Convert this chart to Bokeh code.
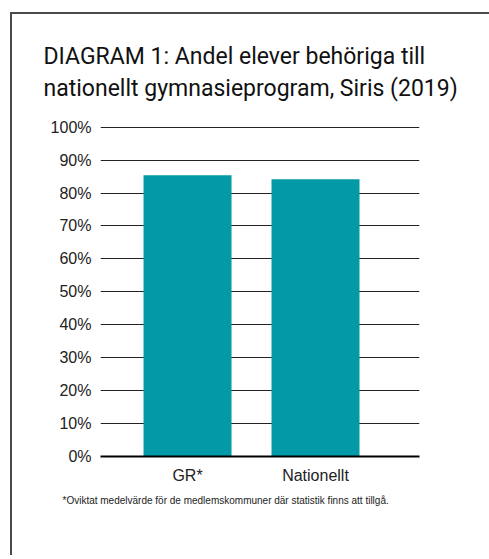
from bokeh.plotting import figure
from bokeh.models import (Range1d, FixedTicker, PrintfTickFormatter, Title)
from bokeh.embed import file_html
from bokeh.resources import INLINE

categories = ["GR*", "Nationellt"]
values = [85.4, 84.2]
y_ticks = [0, 10, 20, 30, 40, 50, 60, 70, 80, 90, 100]
title_lines = ["DIAGRAM 1: Andel elever behöriga till",
               "nationellt gymnasieprogram, Siris (2019)"]
footnote = "*Oviktat medelvärde för de medlemskommuner där statistik finns att tillgå."

xs = list(range(len(categories)))

p = figure(width=479, height=543, output_backend="svg", toolbar_location=None,
           x_range=Range1d(-0.68, 1.8125), y_range=Range1d(0, 100.5),
           min_border_left=88, min_border_right=72, min_border_top=111,
           min_border_bottom=101)
p.margin = (14, 0, 0, 12)
p.styles = {"box-shadow": "-2px -2px 0px 0px #4a4a4a"}
p.outline_line_color = None
p.background_fill_color = "white"
p.border_fill_color = "white"

p.vbar(x=xs, top=values, width=0.6875, bottom=0, color="#019AA6", line_color=None)

p.xaxis.ticker = FixedTicker(ticks=xs)
p.xaxis.major_label_overrides = {i: c for i, c in zip(xs, categories)}
p.xaxis.major_tick_line_color = None
p.xaxis.minor_tick_line_color = None
p.xaxis.major_tick_out = 0
p.xaxis.minor_tick_out = 0
p.xaxis.axis_line_color = "black"
p.xaxis.axis_line_width = 2
p.xaxis.major_label_text_font = "Liberation Sans"
p.xaxis.major_label_text_font_size = "16px"
p.xaxis.major_label_text_color = "#222222"
p.xaxis.major_label_standoff = 10

p.yaxis.ticker = FixedTicker(ticks=y_ticks)
p.yaxis.formatter = PrintfTickFormatter(format="%d%%")
p.yaxis.axis_line_color = None
p.yaxis.major_tick_line_color = None
p.yaxis.minor_tick_line_color = None
p.yaxis.major_tick_out = 0
p.yaxis.minor_tick_out = 0
p.yaxis.major_label_text_font = "Liberation Sans"
p.yaxis.major_label_text_font_size = "16px"
p.yaxis.major_label_text_color = "#222222"
p.yaxis.major_label_standoff = 9

p.xgrid.grid_line_color = None
p.ygrid.ticker = FixedTicker(ticks=y_ticks)
p.ygrid.grid_line_color = "#222222"
p.ygrid.grid_line_width = 1

p.title = None
p.add_layout(Title(text="\n".join(title_lines), align="left", offset=-57, standoff=46,
                   text_font="Roboto", text_font_size="23px", text_line_height=1.2,
                   text_font_style="normal", text_color="#111111"), "above")

p.add_layout(Title(text=footnote, align="left", offset=-38, standoff=13,
                   text_font="Liberation Sans", text_font_size="10px",
                   text_font_style="normal", text_color="#222222"), "below")

open("out.html", "w").write(file_html(p, INLINE))
